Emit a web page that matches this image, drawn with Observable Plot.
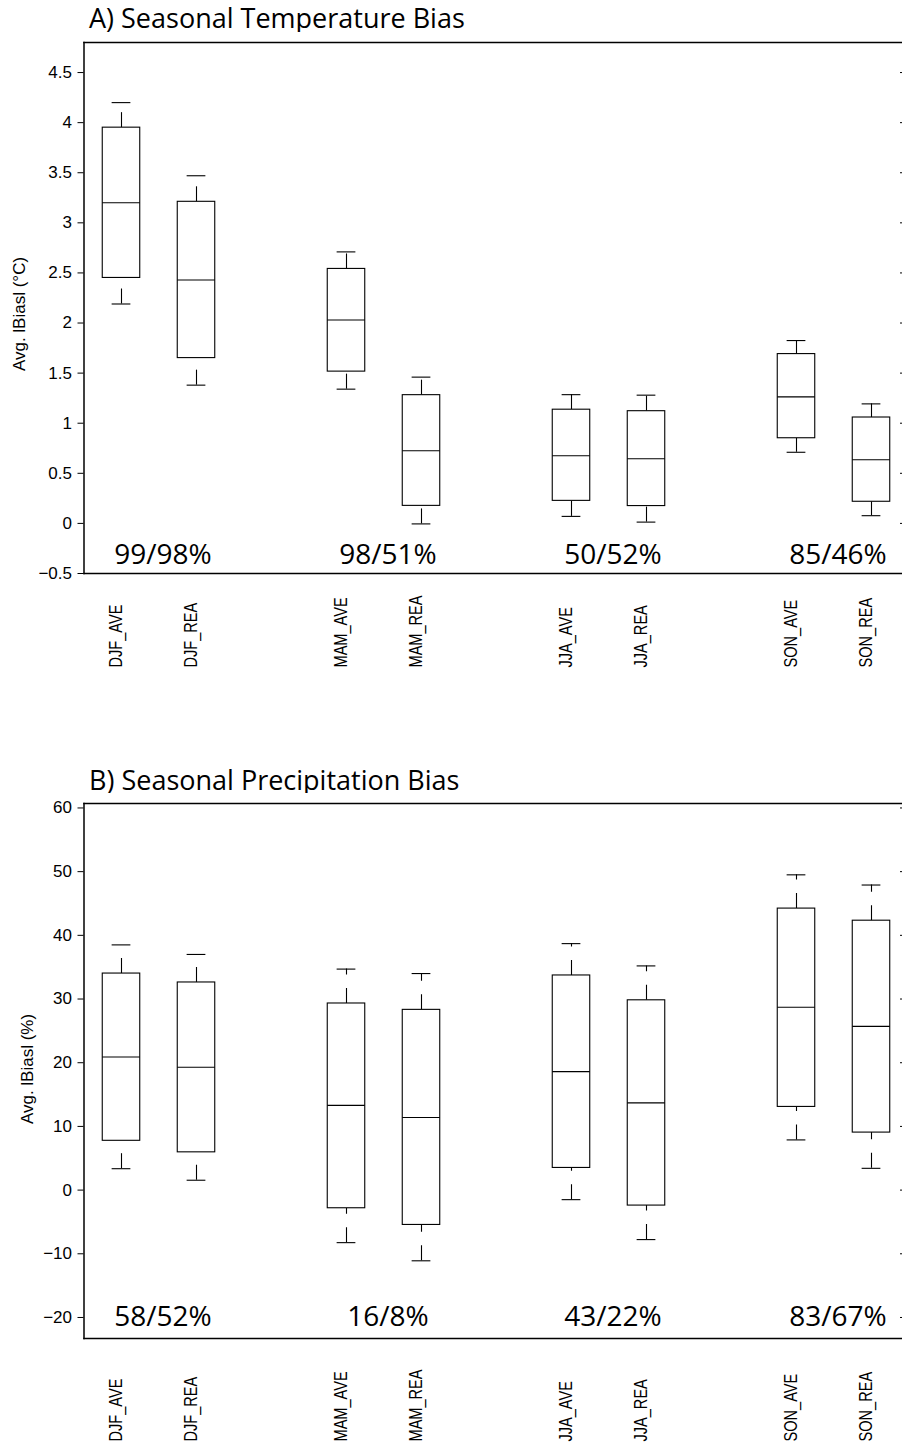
<!DOCTYPE html>
<html><head><meta charset="utf-8">
<script src="https://cdn.jsdelivr.net/npm/d3@7"></script>
<script src="https://cdn.jsdelivr.net/npm/@observablehq/plot@0.6"></script>
<style>
body{margin:0;background:#fff;overflow:hidden;}
#wrap{position:relative;width:902px;height:1453px;overflow:hidden;}
.title{position:absolute;font-family:"Open Sans","Noto Sans",sans-serif;font-size:27px;line-height:1;white-space:nowrap;color:#000;}
.panel{position:absolute;left:0;}
.panel svg{max-width:none;}
</style></head><body><div id="wrap"></div>
<script>
// ---- data ----
const categories = ["DJF_AVE","DJF_REA","MAM_AVE","MAM_REA","JJA_AVE","JJA_REA","SON_AVE","SON_REA"];
const positions = [1, 2, 4, 5, 7, 8, 10, 11];

const tempLow    = [2.19, 1.38, 1.34, -0.005, 0.07, 0.013, 0.71, 0.077];
const tempQ1     = [2.45, 1.65, 1.515, 0.175, 0.225, 0.173, 0.85, 0.216];
const tempMedian = [3.20, 2.43, 2.03, 0.725, 0.675, 0.645, 1.263, 0.635];
const tempQ3     = [3.95, 3.21, 2.54, 1.28, 1.135, 1.12, 1.69, 1.057];
const tempHigh   = [4.20, 3.47, 2.71, 1.46, 1.285, 1.28, 1.825, 1.193];

const precLow    = [3.36, 1.55, -8.25, -11.1, -1.5, -7.77, 7.88, 3.42];
const precQ1     = [7.74, 5.93, -2.85, -5.47, 3.48, -2.43, 13.06, 9.03];
const precMedian = [20.9, 19.3, 13.3, 11.4, 18.6, 13.7, 28.7, 25.7];
const precQ3     = [34.0, 32.6, 29.3, 28.3, 33.7, 29.8, 44.2, 42.3];
const precHigh   = [38.5, 37.0, 34.7, 34.0, 38.7, 35.2, 49.5, 47.9];

const groupPositions = [1.5, 4.5, 7.5, 10.5];
const tempAgreement = ["99/98%", "98/51%", "50/52%", "85/46%"];
const precAgreement = ["58/52%", "16/8%", "43/22%", "83/67%"];

const tempTicks = [-0.5, 0, 0.5, 1, 1.5, 2, 2.5, 3, 3.5, 4, 4.5];
const precTicks = [-20, -10, 0, 10, 20, 30, 40, 50, 60];

const tempTitle = "A) Seasonal Temperature Bias";
const precTitle = "B) Seasonal Precipitation Bias";
const tempYLabel = "Avg. lBiasl (°C)";
const precYLabel = "Avg. lBiasl (%)";

// ---- helpers ----
function rows(lo, q1, med, q3, hi) {
  return categories.map((c, i) => ({cat: c, pos: positions[i], lo: lo[i], q1: q1[i], med: med[i], q3: q3[i], hi: hi[i]}));
}
const minus = d => String(d).replace("-", "\u2212");
const sans = "'Liberation Sans',Arial,Helvetica,sans-serif";
const BOXW = 0.25, CAPW = 0.125;
const LW = 1.1;

function panel({data, yDomain, ticks, plotHeight, labels, ylabel, ylabelDy, ylabelDx, pctDy, xlabDy, marginBottom}) {
  const marginTop = 10;
  const svg = Plot.plot({
    width: 902,
    height: marginTop + plotHeight + marginBottom,
    marginTop, marginBottom,
    marginLeft: 83.5, marginRight: 0,
    style: {fontFamily: sans, fontSize: "17px", color: "black", background: "white"},
    x: {domain: [0.5, 11.5], range: [83.5, 908.5], axis: null},
    y: {domain: yDomain, axis: null},
    marks: [
      // whiskers (dashed, dash pattern starting from the lower end)
      Plot.ruleX(data, {x: "pos", y1: "q3", y2: "hi", stroke: "black", strokeWidth: LW, strokeDasharray: "15,13.5"}),
      Plot.ruleX(data, {x: "pos", y1: "lo", y2: "q1", stroke: "black", strokeWidth: LW, strokeDasharray: "15,13.5"}),
      // caps
      Plot.ruleY(data, {y: "hi", x1: d => d.pos - CAPW, x2: d => d.pos + CAPW, stroke: "black", strokeWidth: LW}),
      Plot.ruleY(data, {y: "lo", x1: d => d.pos - CAPW, x2: d => d.pos + CAPW, stroke: "black", strokeWidth: LW}),
      // boxes
      Plot.rect(data, {x1: d => d.pos - BOXW, x2: d => d.pos + BOXW, y1: "q1", y2: "q3", fill: "white", stroke: "black", strokeWidth: LW}),
      // medians
      Plot.ruleY(data, {y: "med", x1: d => d.pos - BOXW, x2: d => d.pos + BOXW, stroke: "black", strokeWidth: LW}),
      // frame
      Plot.frame({anchor: "top", stroke: "black", strokeWidth: 1.5}),
      Plot.frame({anchor: "bottom", stroke: "black", strokeWidth: 1.5}),
      Plot.frame({anchor: "left", stroke: "black", strokeWidth: 1.5}),
      // y axes
      Plot.axisY(ticks, {tickSize: 6, tickPadding: 6, tickFormat: minus, label: null, fontSize: 17, stroke: "black", strokeWidth: 1}),
      Plot.axisY(ticks, {anchor: "right", tickSize: 3, dx: -3, tickFormat: () => "", label: null, stroke: "black", strokeWidth: 1}),
      // y label
      Plot.text([ylabel], {frameAnchor: "left", textAnchor: "middle", rotate: -90, dx: ylabelDx, dy: ylabelDy, fontSize: 17, fill: "black"}),
      // agreement percentages
      Plot.text(labels, {x: (d, i) => groupPositions[i], text: d => d, frameAnchor: "bottom", lineAnchor: "bottom", dy: pctDy, dx: 4, fontSize: 28, fontFamily: "'Open Sans','Noto Sans',sans-serif", fill: "black"}),
      // x category labels
      Plot.text(data, {x: "pos", text: "cat", frameAnchor: "bottom", rotate: -90, textAnchor: "start", dy: xlabDy, fontSize: 18, fill: "black"})
    ]
  });
  // condensed look of the category labels
  svg.querySelectorAll("text").forEach(t => {
    if (categories.includes(t.textContent)) {
      const tr = t.getAttribute("transform") || "";
      t.setAttribute("transform", tr + " scale(0.81,1)");
    }
  });
  return svg;
}

const wrap = document.getElementById("wrap");
function addTitle(text, top, left) {
  const t = document.createElement("div");
  t.className = "title"; t.textContent = text;
  t.style.top = top + "px"; t.style.left = left + "px";
  wrap.appendChild(t);
}
function addPanel(svg, top) {
  const d = document.createElement("div");
  d.className = "panel"; d.style.top = top + "px";
  d.appendChild(svg); wrap.appendChild(d);
}

addTitle(tempTitle, 4, 89);
addPanel(panel({data: rows(tempLow, tempQ1, tempMedian, tempQ3, tempHigh), yDomain: [-0.5, 4.8], ticks: tempTicks,
  plotHeight: 531, labels: tempAgreement, ylabel: tempYLabel, ylabelDx: -64, ylabelDy: 6, pctDy: -10, xlabDy: 94, marginBottom: 100}), 32);

addTitle(precTitle, 766, 89);
addPanel(panel({data: rows(precLow, precQ1, precMedian, precQ3, precHigh), yDomain: [-23.3, 60.7], ticks: precTicks,
  plotHeight: 535, labels: precAgreement, ylabel: precYLabel, ylabelDx: -56, ylabelDy: -2, pctDy: -13, xlabDy: 103, marginBottom: 108}), 793);
</script></body></html>
